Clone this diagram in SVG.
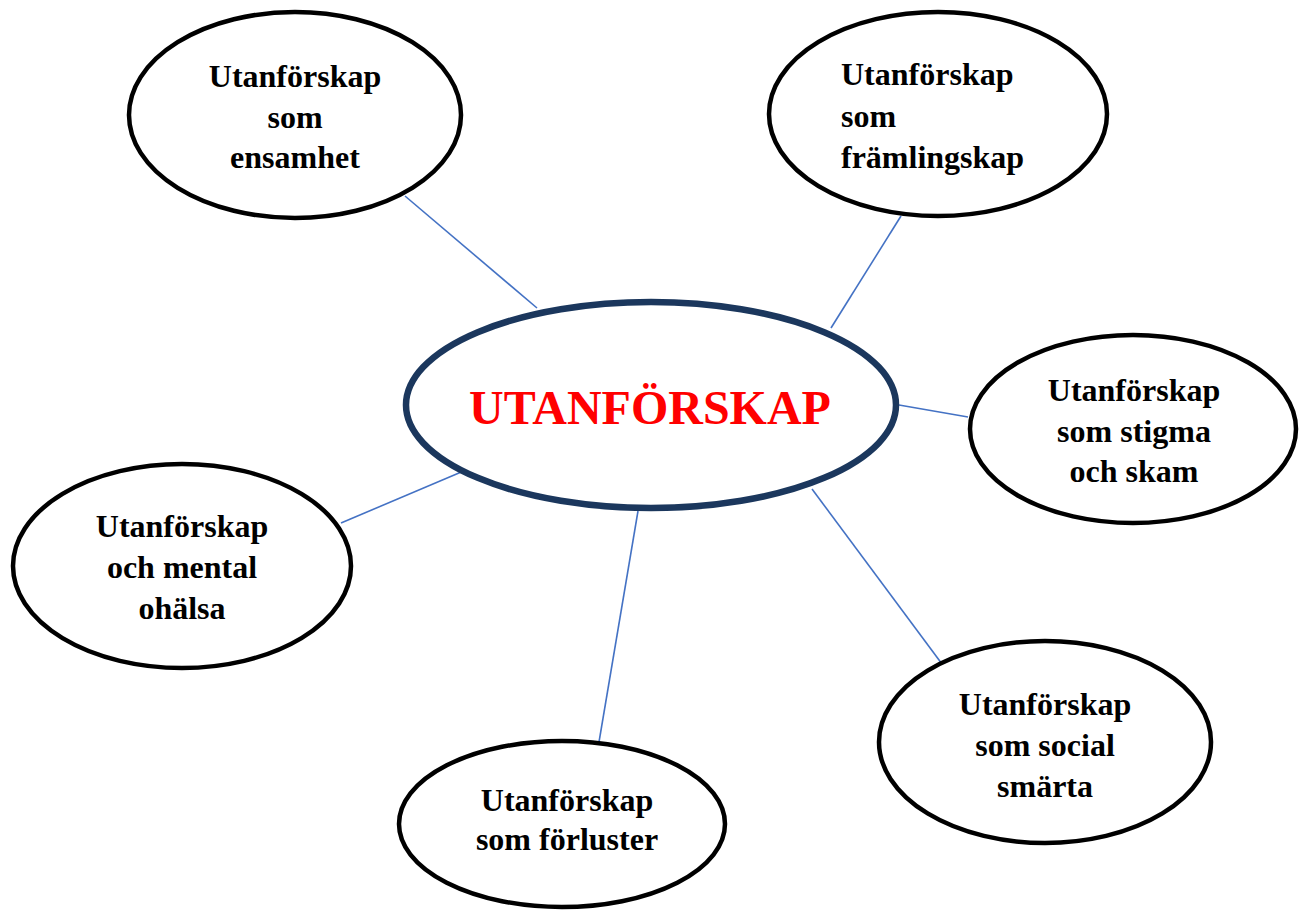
<svg xmlns="http://www.w3.org/2000/svg" width="1306" height="917" viewBox="0 0 1306 917">
<style>
.bubble{fill:#fff;stroke:#000;stroke-width:4.5}
.hub{fill:#fff;stroke:#1b375d;stroke-width:6.5}
.lbl{font-family:"Liberation Serif","Times New Roman",serif;font-weight:bold;font-size:32px;fill:#000}
.c{text-anchor:middle}
.hubtxt{font-family:"Liberation Serif","Times New Roman",serif;font-weight:bold;font-size:48px;fill:#ff0000;text-anchor:middle}
.conn{stroke:#4472c4;stroke-width:1.6;fill:none}
</style>
<rect width="1306" height="917" fill="#fff"/>
<g id="connectors">
<line class="conn" x1="405" y1="196" x2="537" y2="308"/>
<line class="conn" x1="901" y1="216" x2="831" y2="328"/>
<line class="conn" x1="899" y1="405" x2="968" y2="417"/>
<line class="conn" x1="341" y1="523" x2="466" y2="470"/>
<line class="conn" x1="638" y1="511" x2="599" y2="742"/>
<line class="conn" x1="812" y1="489" x2="942" y2="664"/>
</g>
<g id="node-center">
<ellipse class="hub" cx="651" cy="405" rx="245" ry="103"/>
<text class="hubtxt" x="650" y="424">UTANFÖRSKAP</text>
</g>
<g id="node-ensamhet">
<ellipse class="bubble" cx="295" cy="115" rx="166" ry="103"/>
<text class="lbl c" x="295" y="87">Utanförskap</text>
<text class="lbl c" x="295" y="128">som</text>
<text class="lbl c" x="295" y="168">ensamhet</text>
</g>
<g id="node-framlingskap">
<ellipse class="bubble" cx="938" cy="114" rx="169" ry="102"/>
<text class="lbl" x="841" y="85">Utanförskap</text>
<text class="lbl" x="841" y="127">som</text>
<text class="lbl" x="841" y="168">främlingskap</text>
</g>
<g id="node-stigma">
<ellipse class="bubble" cx="1133" cy="429" rx="163" ry="94"/>
<text class="lbl c" x="1134" y="401">Utanförskap</text>
<text class="lbl c" x="1134" y="442">som stigma</text>
<text class="lbl c" x="1134" y="482">och skam</text>
</g>
<g id="node-mental">
<ellipse class="bubble" cx="182" cy="566" rx="169" ry="102"/>
<text class="lbl c" x="182" y="537">Utanförskap</text>
<text class="lbl c" x="182" y="578">och mental</text>
<text class="lbl c" x="182" y="619">ohälsa</text>
</g>
<g id="node-social">
<ellipse class="bubble" cx="1045" cy="742" rx="166" ry="101"/>
<text class="lbl c" x="1045" y="715">Utanförskap</text>
<text class="lbl c" x="1045" y="756">som social</text>
<text class="lbl c" x="1045" y="797">smärta</text>
</g>
<g id="node-forluster">
<ellipse class="bubble" cx="562" cy="824" rx="163" ry="83"/>
<text class="lbl c" x="567" y="811">Utanförskap</text>
<text class="lbl c" x="567" y="850">som förluster</text>
</g>
</svg>
